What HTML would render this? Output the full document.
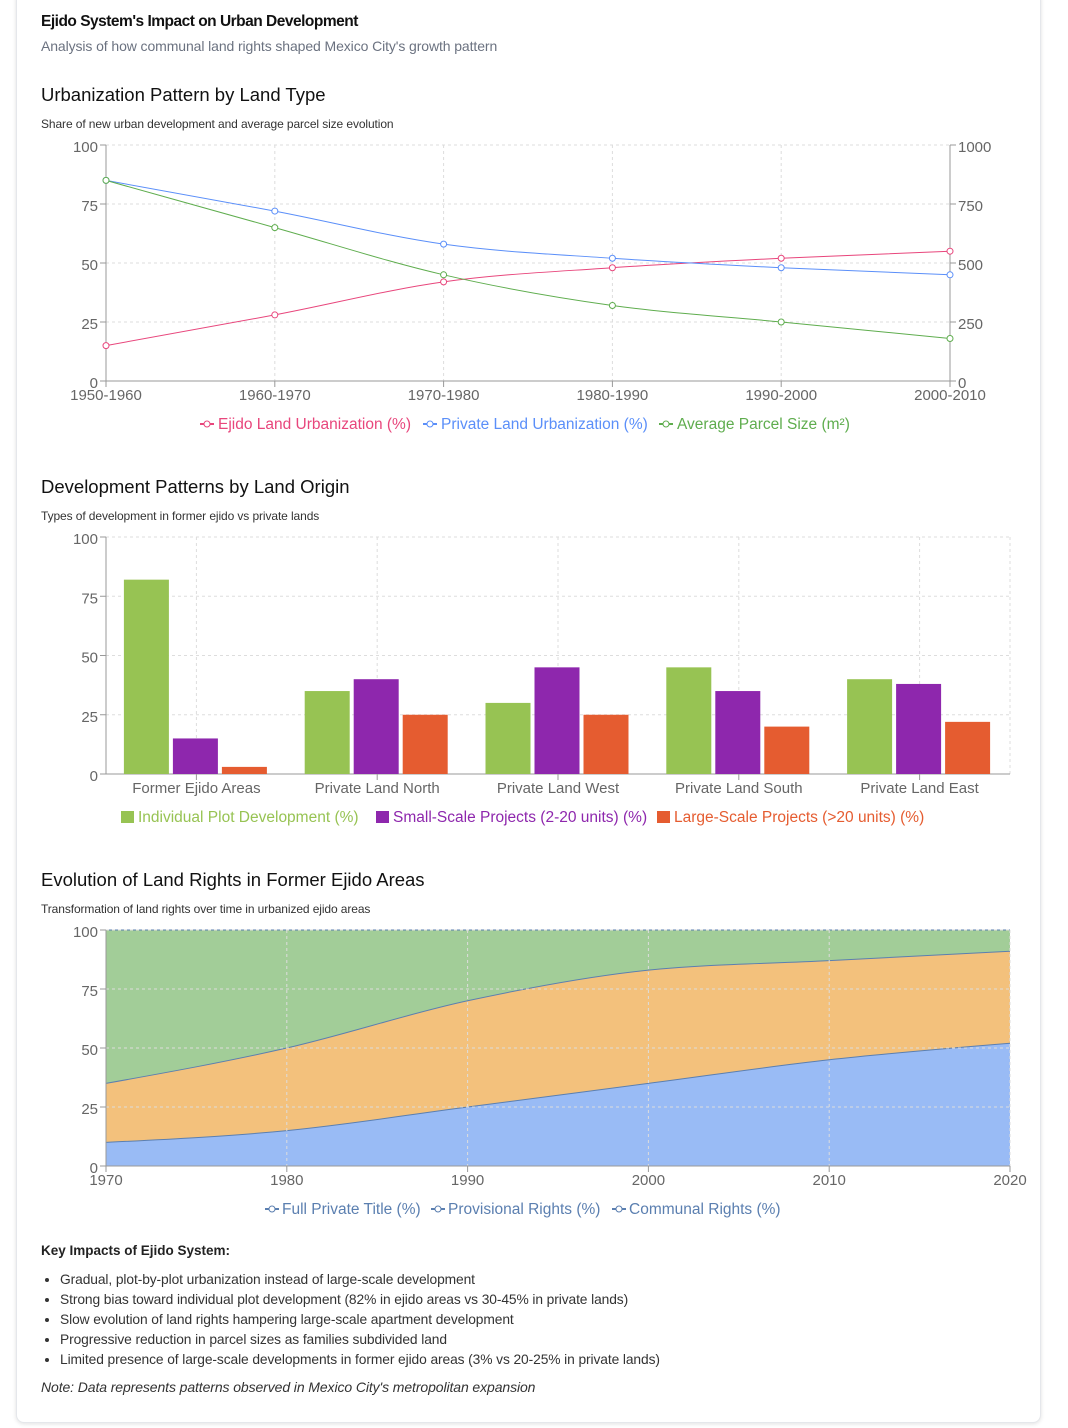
<!DOCTYPE html>
<html><head><meta charset="utf-8">
<style>
body{margin:0;background:#fff;font-family:"Liberation Sans",sans-serif;}
#card{position:absolute;left:16px;top:-10px;width:1023px;height:1431px;border:1px solid #e5e7eb;border-radius:8px;box-shadow:0 1px 4px rgba(0,0,0,0.12);background:#fff;}
.t{position:absolute;white-space:nowrap;}
svg{position:absolute;left:0;top:0;}
ul{position:absolute;left:40px;top:1270px;margin:0;padding:0 0 0 20px;font-size:13.8px;color:#333;line-height:20px;letter-spacing:-0.1px;}
</style></head><body>
<div id="card"></div>
<div class="t" style="left:41px;top:13px;font-size:15.5px;font-weight:bold;color:#111;letter-spacing:-0.5px">Ejido System's Impact on Urban Development</div>
<div class="t" style="left:41px;top:38px;font-size:14px;color:#6b7280;letter-spacing:-0.1px">Analysis of how communal land rights shaped Mexico City's growth pattern</div>
<div class="t" style="left:41px;top:84px;font-size:18.5px;color:#111">Urbanization Pattern by Land Type</div>
<div class="t" style="left:41px;top:117px;font-size:12px;color:#333;letter-spacing:-0.1px">Share of new urban development and average parcel size evolution</div>
<div class="t" style="left:41px;top:476px;font-size:18.5px;color:#111">Development Patterns by Land Origin</div>
<div class="t" style="left:41px;top:509px;font-size:12px;color:#333;letter-spacing:-0.1px">Types of development in former ejido vs private lands</div>
<div class="t" style="left:41px;top:869px;font-size:18.5px;color:#111">Evolution of Land Rights in Former Ejido Areas</div>
<div class="t" style="left:41px;top:902px;font-size:12px;color:#333;letter-spacing:-0.1px">Transformation of land rights over time in urbanized ejido areas</div>
<div class="t" style="left:41px;top:1243px;font-size:13.5px;font-weight:bold;color:#222">Key Impacts of Ejido System:</div>
<ul>
<li>Gradual, plot-by-plot urbanization instead of large-scale development</li>
<li>Strong bias toward individual plot development (82% in ejido areas vs 30-45% in private lands)</li>
<li>Slow evolution of land rights hampering large-scale apartment development</li>
<li>Progressive reduction in parcel sizes as families subdivided land</li>
<li>Limited presence of large-scale developments in former ejido areas (3% vs 20-25% in private lands)</li>
</ul>
<div class="t" style="left:41px;top:1379px;font-size:14px;font-style:italic;color:#333;letter-spacing:-0.1px">Note: Data represents patterns observed in Mexico City's metropolitan expansion</div>
<svg id="s" width="1068" height="1428"></svg>
<script>
const periods=["1950-1960","1960-1970","1970-1980","1980-1990","1990-2000","2000-2010"];
const ejidoUrb=[15,28,42,48,52,55];
const privateUrb=[85,72,58,52,48,45];
const parcelSize=[850,650,450,320,250,180];
const pctTicks=[0,25,50,75,100];
const parcelTicks=[0,250,500,750,1000];
const landOrigins=["Former Ejido Areas","Private Land North","Private Land West","Private Land South","Private Land East"];
const individualPlot=[82,35,30,45,40];
const smallScale=[15,40,45,35,38];
const largeScale=[3,25,25,20,22];
const years=[1970,1980,1990,2000,2010,2020];
const fullTitle=[10,15,25,35,45,52];
const provisional=[25,35,45,48,42,39];
const communal=[65,50,30,17,13,9];

const S=document.getElementById('s');const NS="http://www.w3.org/2000/svg";
function mk(tag,attrs,parent){const e=document.createElementNS(NS,tag);for(const k in attrs)e.setAttribute(k,attrs[k]);(parent||S).appendChild(e);return e;}
function txt(x,y,s,attrs){const e=mk('text',Object.assign({x:x,y:y,'font-size':15,fill:'#666','font-family':'Liberation Sans, sans-serif'},attrs));e.textContent=s;return e;}
function mono(pts){const n=pts.length;if(n<2)return'';const dx=[],m=[],t=[];for(let i=0;i<n-1;i++){dx.push(pts[i+1][0]-pts[i][0]);m.push((pts[i+1][1]-pts[i][1])/dx[i]);}
t[0]=m[0];t[n-1]=m[n-2];for(let i=1;i<n-1;i++){if(m[i-1]*m[i]<=0)t[i]=0;else{const h0=dx[i-1],h1=dx[i];const p=(m[i-1]*h1+m[i]*h0)/(h0+h1);t[i]=(Math.sign(m[i-1])+Math.sign(m[i]))*Math.min(Math.abs(m[i-1]),Math.abs(m[i]),0.5*Math.abs(p));}}
t[0]=(3*m[0]-t[1])/2;t[n-1]=(3*m[n-2]-t[n-2])/2;
let d='M'+pts[0][0]+','+pts[0][1];for(let i=0;i<n-1;i++){const h=dx[i]/3;d+='C'+(pts[i][0]+h)+','+(pts[i][1]+h*t[i])+' '+(pts[i+1][0]-h)+','+(pts[i+1][1]-h*t[i+1])+' '+pts[i+1][0]+','+pts[i+1][1];}return d;}
function grid(L,R,T,B,vx){pctTicks.forEach(v=>{const y=B-(B-T)*v/100;const g=mk('line',{x1:L,x2:R,y1:y,y2:y,stroke:'#ddd','stroke-dasharray':'3 3'});});
vx.forEach(x=>{const g=mk('line',{x1:x,x2:x,y1:T,y2:B,stroke:'#ddd','stroke-dasharray':'3 3'});});}
function yAxis(L,T,B){mk('line',{x1:L,x2:L,y1:T,y2:B,stroke:'#999'});pctTicks.forEach(v=>{const y=B-(B-T)*v/100;mk('line',{x1:L-6,x2:L,y1:y,y2:y,stroke:'#999'});const e=txt(L-8,y+7,String(v),{'text-anchor':'end'});});}

// Chart 1
(function(){const L=106,R=950,T=145,B=381;const xs=i=>L+(R-L)*i/(periods.length-1);const yp=v=>B-(B-T)*v/100;const yr=v=>B-(B-T)*v/1000;
grid(L,R,T,B,periods.map((p,i)=>xs(i)));
yAxis(L,T,B);mk('line',{x1:L,x2:R,y1:B,y2:B,stroke:'#999'});
mk('line',{x1:R,x2:R,y1:T,y2:B,stroke:'#999'});
parcelTicks.forEach(v=>{const y=yr(v);mk('line',{x1:R,x2:R+6,y1:y,y2:y,stroke:'#999'});const e=txt(R+8,y+7,String(v),{});});
periods.forEach((p,i)=>{mk('line',{x1:xs(i),x2:xs(i),y1:B,y2:B+6,stroke:'#999'});const e=txt(xs(i),B+19,p,{'text-anchor':'middle'});});
const ser=[[ejidoUrb,'#e8467c',yp,'ejido-line'],[privateUrb,'#5b8ff9',yp,'private-line'],[parcelSize,'#5fad4e',yr,'parcel-line']];
ser.forEach(s=>{const pts=s[0].map((v,i)=>[xs(i),s[2](v)]);const p=mk('path',{d:mono(pts),fill:'none',stroke:s[1],'stroke-width':1});
pts.forEach(q=>{const c=mk('circle',{cx:q[0],cy:q[1],r:3,fill:'#fff',stroke:s[1]});});});
const leg=[["Ejido Land Urbanization (%)",'#e8467c',200],["Private Land Urbanization (%)",'#5b8ff9',423],["Average Parcel Size (m²)",'#5fad4e',659]];
leg.forEach(l=>{const g=mk('g',{});mk('line',{x1:l[2],x2:l[2]+14,y1:424,y2:424,stroke:l[1],'stroke-width':2},g);mk('circle',{cx:l[2]+7,cy:424,r:3,fill:'#fff',stroke:l[1]},g);const e=txt(l[2]+18,429,l[0],{fill:l[1],'font-size':15.5});g.appendChild(e);});
})();

// Chart 2
(function(){const L=106,R=1010,T=537,B=774;const cw=(R-L)/landOrigins.length;const y=v=>B-(B-T)*v/100;
grid(L,R,T,B,landOrigins.map((c,i)=>L+cw*(i+0.5)).concat([R]));yAxis(L,T,B);mk('line',{x1:L,x2:R,y1:B,y2:B,stroke:'#999'});
const ser=[[individualPlot,'#97c353','bar-individual'],[smallScale,'#8e27ad','bar-small-scale'],[largeScale,'#e55c30','bar-large-scale']];
const bw=45,gap=4,off=(cw-(3*bw+2*gap))/2;
landOrigins.forEach((c,i)=>{const x0=L+cw*i;mk('line',{x1:x0+cw/2,x2:x0+cw/2,y1:B,y2:B+6,stroke:'#999'});const e=txt(x0+cw/2,B+19,c,{'text-anchor':'middle'});
ser.forEach((s,j)=>{const r=mk('rect',{x:x0+off+j*(bw+gap)-1,y:y(s[0][i]),width:bw,height:B-y(s[0][i]),fill:s[1]});});});
const leg=[["Individual Plot Development (%)",'#97c353',121],["Small-Scale Projects (2-20 units) (%)",'#8e27ad',376],["Large-Scale Projects (>20 units) (%)",'#e55c30',657]];
leg.forEach(l=>{const g=mk('g',{});mk('rect',{x:l[2],y:811,width:13,height:12,fill:l[1]},g);const e=txt(l[2]+17,822,l[0],{fill:l[1],'font-size':15.5});g.appendChild(e);});
})();

// Chart 3
(function(){const L=106,R=1010,T=930,B=1166;const x=i=>L+(R-L)*i/(years.length-1);const y=v=>B-(B-T)*v/100;
const c1=fullTitle,c2=fullTitle.map((v,i)=>v+provisional[i]),c3=c2.map((v,i)=>v+communal[i]);
const layers=[[c3,c2,'#a2cd98','area-communal'],[c2,c1,'#f3c17c','area-provisional'],[c1,years.map(()=>0),'#99bbf5','area-full-title']];
layers.forEach(l=>{const top=l[0].map((v,i)=>[x(i),y(v)]);const bot=l[1].map((v,i)=>[x(i),y(v)]).reverse();
let d=mono(top);const db=mono(bot);d+='L'+db.slice(1)+'Z';const p=mk('path',{d:d,fill:l[2],stroke:'none'});
mk('path',{d:mono(top),fill:'none',stroke:'#5b7fb0','stroke-width':1});});
grid(L,R,T,B,years.map((v,i)=>x(i)));
yAxis(L,T,B);mk('line',{x1:L,x2:R,y1:B,y2:B,stroke:'#999'});
years.forEach((v,i)=>{mk('line',{x1:x(i),x2:x(i),y1:B,y2:B+6,stroke:'#999'});const e=txt(x(i),B+19,String(v),{'text-anchor':'middle'});});
const leg=[["Full Private Title (%)",265],["Provisional Rights (%)",431],["Communal Rights (%)",612]];
leg.forEach(l=>{const g=mk('g',{});mk('line',{x1:l[1],x2:l[1]+14,y1:1209,y2:1209,stroke:'#5b7fb0','stroke-width':2},g);mk('circle',{cx:l[1]+7,cy:1209,r:3,fill:'#fff',stroke:'#5b7fb0'},g);const e=txt(l[1]+17,1214,l[0],{fill:'#5b7fb0','font-size':15.5});g.appendChild(e);});
})();
</script>
</body></html>
